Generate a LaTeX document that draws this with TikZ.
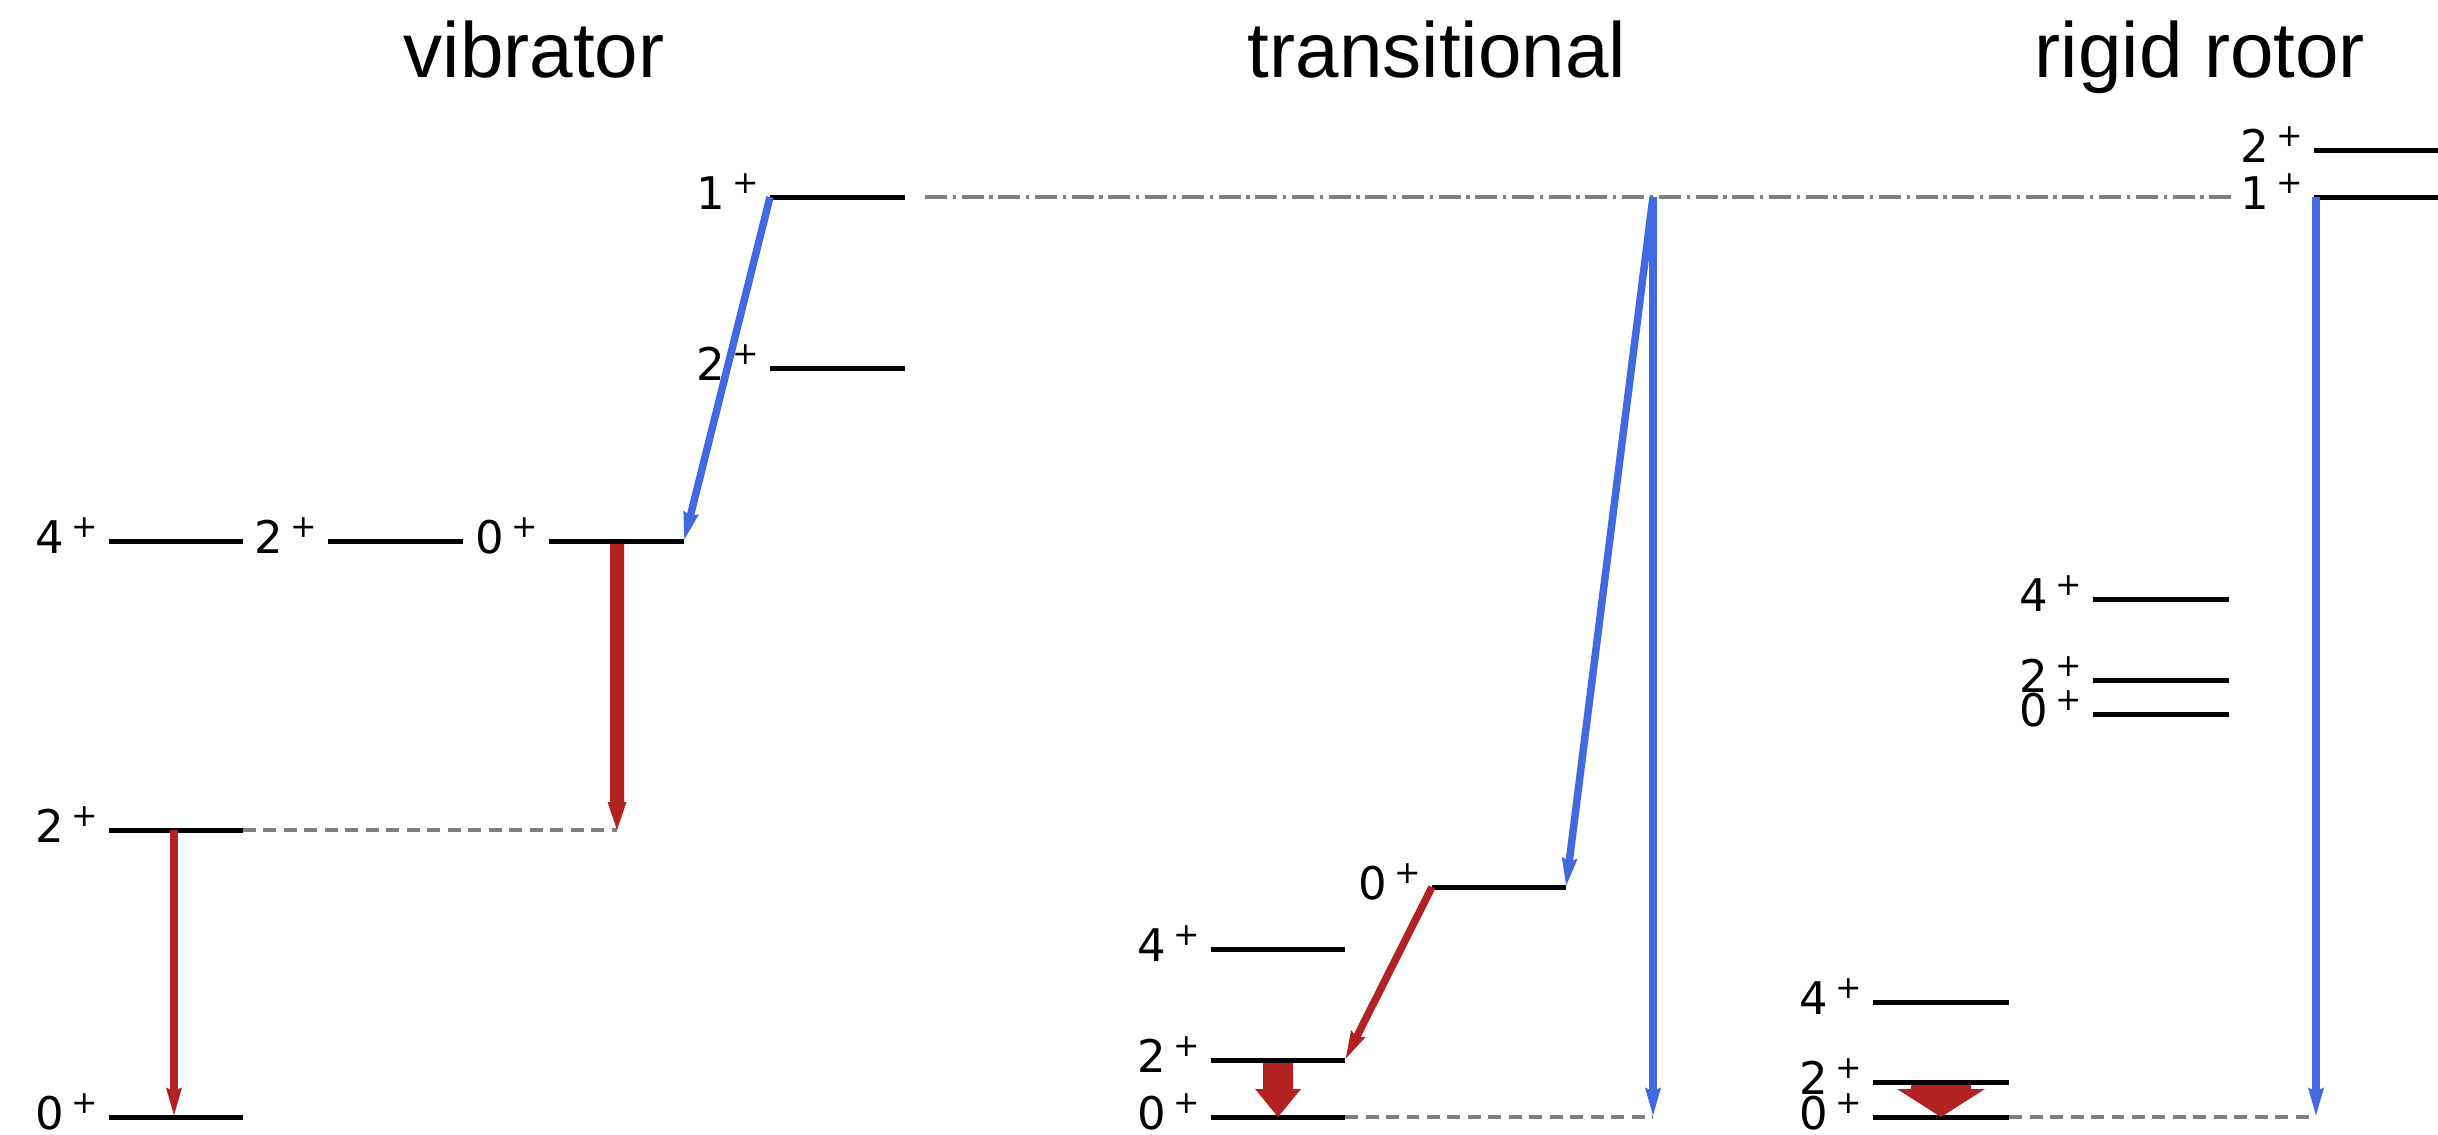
\documentclass[tikz,border=0pt]{standalone}
\usepackage{fontspec}
\usetikzlibrary{arrows.meta,calc}
\newfontfamily\labfont{DejaVu Sans}
\newfontfamily\titfont{Liberation Sans}
\definecolor{fire}{RGB}{178,34,34}
\definecolor{royal}{RGB}{65,105,225}
\definecolor{guide}{RGB}{128,128,128}
\newcommand\jplab[1]{{\labfont\fontsize{25.6}{28}\selectfont #1\hspace{4.4pt}\raisebox{9pt}{\fontsize{18}{18}\selectfont +}}}
\newcommand\mklevel[5]{%
  \coordinate (#1L) at (#2,#4);
  \coordinate (#1R) at (#3,#4);
  \draw[lvl] (#1L) -- (#1R);
  \node[lab] (#1lab) at ([shift={(-11,12)}]#1L) {\jplab{#5}};
}
\tikzset{
  lvl/.style={line width=0.1cm, black},
  lab/.style={anchor=base east, inner sep=0pt, outer sep=0pt},
  title/.style={anchor=base, inner sep=0pt, font=\titfont\fontsize{44.5}{50}\selectfont},
  dashedguide/.style={guide, line width=0.08cm, dash pattern=on 0.26cm off 0.15cm},
  dotguide/.style={guide, line width=0.08cm, dash pattern=on 0.44cm off 0.114cm on 0.066cm off 0.114cm},
  bluearr/.style={royal, line width=0.15cm, -{Stealth[length=0.56cm,width=0.28cm,inset=0.05cm]}},
  redarr/.style={fire, line width=0.15cm, -{Stealth[length=0.56cm,width=0.28cm,inset=0.05cm]}},
}
\begin{document}
\begin{tikzpicture}[x=0.02cm,y=-0.02cm]
\useasboundingbox (0,0) rectangle (2438,1134);

% titles
\node[title] (tvib) at (534,77) {vibrator};
\node[title] (ttra) at (1437,77) {transitional};
\node[title] (trig) at (2200,77) {rigid rotor};

% vibrator levels
\mklevel{va}{109}{243}{1117}{0}
\mklevel{vb}{109}{243}{830}{2}
\mklevel{vc}{109}{243}{541}{4}
\mklevel{vd}{328}{463}{541}{2}
\mklevel{ve}{549}{684}{541}{0}
\mklevel{vf}{770}{905}{368}{2}
\mklevel{vg}{770}{905}{197}{1}
% transitional levels
\mklevel{ta}{1211}{1345}{1117}{0}
\mklevel{tb}{1211}{1345}{1060}{2}
\mklevel{tc}{1211}{1345}{949}{4}
\mklevel{td}{1432}{1566}{887}{0}
% rigid rotor levels
\mklevel{ra}{1873}{2009}{1117}{0}
\mklevel{rb}{1873}{2009}{1082}{2}
\mklevel{rc}{1873}{2009}{1002}{4}
\mklevel{rd}{2093}{2229}{714}{0}
\mklevel{re}{2093}{2229}{680}{2}
\mklevel{rf}{2093}{2229}{599}{4}
\mklevel{rg}{2314}{2438}{197}{1}
\mklevel{rh}{2314}{2438}{150}{2}

% auxiliary points
\coordinate (veX) at (617,541);
\coordinate (vbX) at (617,830);
\coordinate (vbY) at (174,830);
\coordinate (vaY) at (174,1117);
\coordinate (tT) at (1653,197);
\coordinate (tB) at (1653,1117);
\coordinate (rT) at (2316,197);
\coordinate (rB) at (2316,1117);
\coordinate (ddE) at (2232,197);
\coordinate (tfS) at (1278,1063);
\coordinate (tfH) at (1278,1089);
\coordinate (tfE) at (1278,1117);
\coordinate (rfS) at (1941,1085);
\coordinate (rfH) at (1941,1089);
\coordinate (rfE) at (1941,1117);
\coordinate (vtS) at (617,544);
\coordinate (vtH) at (617,802);

% guide lines
\draw[dotguide] ([xshift=0.4cm]vgR) -- (ddE);
\draw[dashedguide] (vbR) -- (vbX);
\draw[dashedguide] (taR) -- (tB);
\draw[dashedguide] (raR) -- (rB);

% transitions
\draw[bluearr] (vgL) -- (veR);
\draw[bluearr] (tT) -- (tdR);
\draw[bluearr] (tT) -- (tB);
\draw[bluearr] (rT) -- (rB);
\draw[redarr] (vbY) -- (vaY);
\draw[redarr] (tdL) -- (tbR);
% thick red arrow (vibrator)
\fill[fire] ($(vtS)+(-7,0)$) -- ($(vtS)+(7,0)$) -- ($(vtH)+(7,0)$) -- ($(vtH)+(9.5,0)$) -- (vbX)
  -- ($(vtH)+(-9.5,0)$) -- ($(vtH)+(-7,0)$) -- cycle;
% block arrows
\fill[fire] ($(tfS)+(-15,0)$) -- ($(tfS)+(15,0)$) -- ($(tfH)+(15,0)$) -- ($(tfH)+(23,0)$) -- (tfE)
  -- ($(tfH)+(-23,0)$) -- ($(tfH)+(-15,0)$) -- cycle;
\fill[fire] ($(rfS)+(-30,0)$) -- ($(rfS)+(30,0)$) -- ($(rfH)+(30,0)$) -- ($(rfH)+(44,0)$) -- (rfE)
  -- ($(rfH)+(-44,0)$) -- ($(rfH)+(-30,0)$) -- cycle;
\end{tikzpicture}
\end{document}
